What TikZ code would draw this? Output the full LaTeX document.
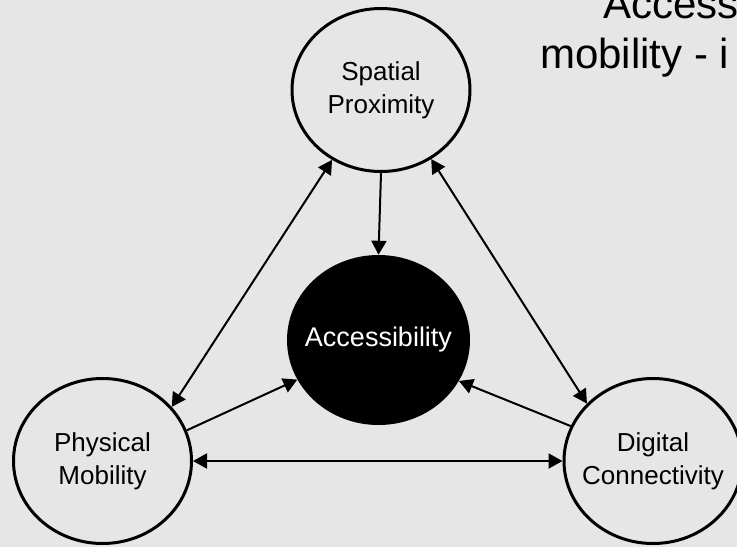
\documentclass[tikz,border=0pt]{standalone}
\usepackage{fontspec}
\setmainfont{Liberation Sans}
\usetikzlibrary{arrows.meta,shapes.geometric}
\definecolor{bggray}{RGB}{230,230,230}
\tikzset{
  ring/.style={ellipse, draw=black, line width=3pt, inner sep=0pt},
  core/.style={ellipse, fill=black, inner sep=0pt},
  ringtext/.style={align=center, inner sep=0pt, font=\fontsize{26}{33}\selectfont},
  coretext/.style={align=center, inner sep=0pt, text=white, font=\fontsize{27}{33}\selectfont},
  link/.style={line width=2pt, draw=black},
  both/.style={link, {Triangle[length=14pt,width=15pt]}-{Triangle[length=14pt,width=15pt]}},
  one/.style={link, -{Triangle[length=14pt,width=15pt]}},
  titletext/.style={anchor=base west, inner sep=0pt, font=\fontsize{42}{50}\selectfont}
}
\begin{document}
\begin{tikzpicture}[x=1pt,y=-1pt]
\useasboundingbox (0,0) rectangle (737,547);
\clip (0,0) rectangle (737,547);
\fill[bggray] (0,0) rectangle (737,547);

\node[ring, minimum width=178pt, minimum height=163pt] (top) at (381,90) {};
\node[ring, minimum width=178pt, minimum height=165pt] (phys) at (102.5,461) {};
\node[ring, minimum width=178pt, minimum height=165pt] (dig) at (653,461) {};
\node[core, minimum width=183pt, minimum height=170pt] (acc) at (378.5,340) {};

\node[ringtext] (toptext) at (top.center) {Spatial\\Proximity};
\node[ringtext] (physt) at (phys.center) {Physical\\Mobility};
\node[ringtext] (digt) at (dig.center) {Digital\\Connectivity};
\node[coretext] (acct) at (acc.center) {Accessibility};

\node[titletext] (title1) at (603,18) {Access};
\node[titletext] (title2) at (540,68) {mobility - i};

\draw[both] (top.235) -- (phys.38);
\draw[both] (top.306.5) -- (dig.139.5);
\draw[one] (top.south) -- (acc.north);
\draw[one] (phys.20) -- (acc.206.4);
\draw[one] (dig.157) -- (acc.333.9);
\draw[both] (phys.east) -- (dig.west);
\end{tikzpicture}
\end{document}
